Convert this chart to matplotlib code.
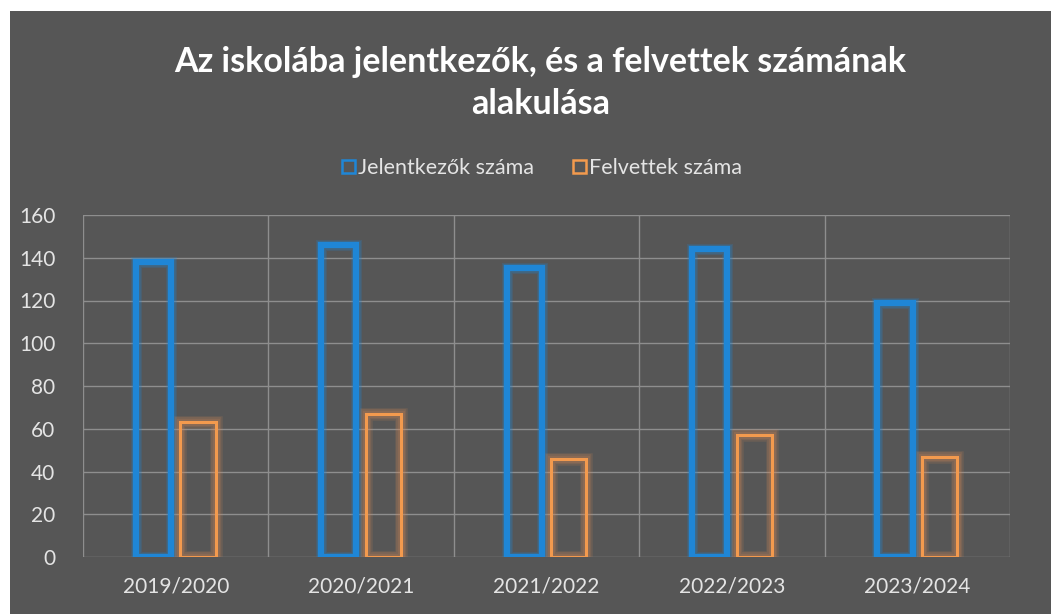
import matplotlib
matplotlib.use("Agg")
import matplotlib.pyplot as plt
import matplotlib.patheffects as pe
from matplotlib.patches import Rectangle
import numpy as np

years = ["2019/2020", "2020/2021", "2021/2022", "2022/2023", "2023/2024"]
jelentkezok = [138, 146, 135, 144, 119]
felvettek = [63, 67, 46, 57, 47]

bg = "#565656"
blue = "#1f86d6"
orange = "#f39a4e"
txt = "#e4e4e4"

plt.rc("font", family=["Lato", "DejaVu Sans"])

fig = plt.figure(figsize=(10.51, 6.14), dpi=100)
fig.patch.set_facecolor("white")
# dark chart area (scan has a white margin top and left)
fig.patches.append(Rectangle((10 / 1051, 0), 1 - 10 / 1051, 1 - 11 / 614,
                             transform=fig.transFigure, facecolor=bg,
                             edgecolor="none", zorder=-5))

ax = fig.add_axes([83 / 1051, 1 - 557 / 614, (1010 - 83) / 1051, (557 - 215) / 614])
ax.set_facecolor("none")


def glow(color, widths, a):
    # soft halo: a few wide translucent strokes under the edge
    return [pe.Stroke(linewidth=lw, foreground=color, alpha=a) for lw in widths] + [pe.Normal()]


x = np.arange(len(years))
w = 0.19
off = 0.12
ax.bar(x - off, jelentkezok, w, facecolor="none", edgecolor=blue, linewidth=4.5,
       label="Jelentkezők száma", zorder=3,
       path_effects=glow(blue, [8, 6.5], 0.18))
ax.bar(x + off, felvettek, w, facecolor="none", edgecolor=orange, linewidth=2.2,
       label="Felvettek száma", zorder=3,
       path_effects=glow("#d98a55", [9, 7, 5], 0.16))

ax.set_xlim(-0.5, len(years) - 0.5)
ax.set_ylim(0, 160)
ax.set_yticks(range(0, 161, 20))
ax.set_xticks(x)
ax.set_xticklabels(years)
ax.set_xticks(np.arange(-0.5, len(years), 1), minor=True)
ax.grid(axis="y", which="major", color="#8e8e8e", linewidth=1, zorder=1)
ax.grid(axis="x", which="minor", color="#8e8e8e", linewidth=1, zorder=1)
ax.tick_params(which="both", length=0)
ax.tick_params(axis="y", labelsize=15, colors=txt, pad=20)
ax.tick_params(axis="x", labelsize=15, colors=txt, pad=14)
for s in ax.spines.values():
    s.set_visible(False)

fig.text(0.514, 1 - 83 / 614, "Az iskolába jelentkezők, és a felvettek számának\nalakulása",
         ha="center", va="center", fontsize=24.5, fontweight="bold", color="white",
         linespacing=1.4)

leg = fig.legend(loc="center", bbox_to_anchor=(0.516, 1 - 168 / 614), ncol=2,
                 frameon=False, fontsize=15.5, handlelength=0.6, handleheight=0.6,
                 handletextpad=0.15, columnspacing=1.8)
for t in leg.get_texts():
    t.set_color(txt)
for h in leg.legend_handles:
    h.set_linewidth(1.8)
    h.set_path_effects([])

fig.savefig("out.png", dpi=100, facecolor=fig.get_facecolor())
